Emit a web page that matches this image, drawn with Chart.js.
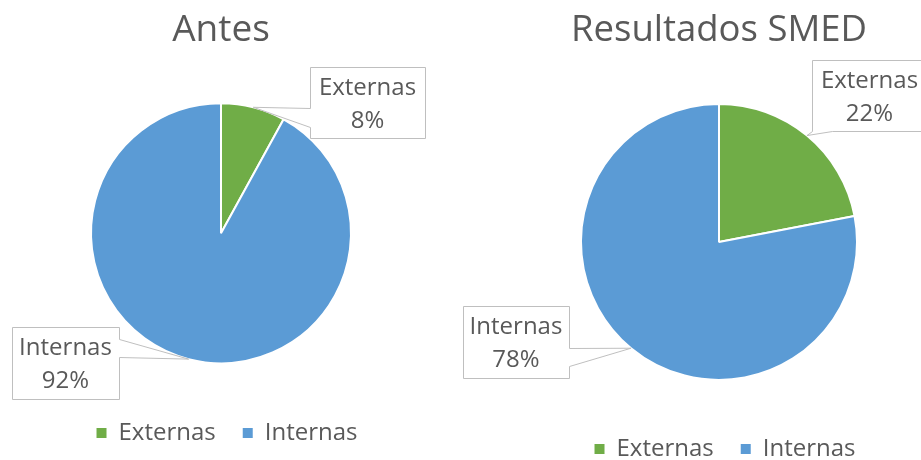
<!DOCTYPE html>
<html lang="es">
<head>
<meta charset="UTF-8">
<title>Antes / Resultados SMED</title>
<style>
  html, body {
    margin: 0;
    padding: 0;
    background: #ffffff;
    overflow: hidden;
  }
  #wrap {
    position: relative;
    width: 921px;
    height: 460px;
  }
  canvas {
    position: absolute;
    top: 0;
  }
  #antes { left: 0; }
  #smed { left: 460px; }
</style>
</head>
<body>
<div id="wrap">
  <canvas id="antes" width="460" height="460"></canvas>
  <canvas id="smed" width="461" height="480"></canvas>
</div>

<script src="https://cdn.jsdelivr.net/npm/chart.js@4.4.1/dist/chart.umd.min.js"></script>
<script>
  // chart data
  const categories = ['Externas', 'Internas'];
  const antesValues = [8, 92];
  const smedValues = [22, 78];
  const chartTitles = ['Antes', 'Resultados SMED'];

  const sliceColors = ['#70AD47', '#5B9BD5'];
  const textColor = '#595959';

  Chart.defaults.font.family = "'Open Sans', sans-serif";
  Chart.defaults.color = textColor;

  // callout boxes with a pointer to the middle of each slice
  const calloutPlugin = {
    id: 'callouts',
    afterLayout(chart, args, opts) {
      // legend centring counts the trailing item padding, nudge it back
      if (chart.legend && opts.legendShift) {
        chart.legend.left += opts.legendShift;
        chart.legend.right += opts.legendShift;
      }
    },
    afterDatasetsDraw(chart, args, opts) {
      const ctx = chart.ctx;
      const meta = chart.getDatasetMeta(0);
      const values = chart.data.datasets[0].data;
      const labels = chart.data.labels;

      opts.boxes.forEach((b, i) => {
        const arc = meta.data[i];
        const p = arc.getProps(['x', 'y', 'startAngle', 'endAngle', 'outerRadius'], true);
        const mid = (p.startAngle + p.endAngle) / 2;
        const tx = p.x + Math.cos(mid) * p.outerRadius;
        const ty = p.y + Math.sin(mid) * p.outerRadius;

        const x = b.x + 0.5, y = b.y + 0.5, w = b.w, h = b.h;
        ctx.save();
        ctx.beginPath();
        ctx.moveTo(x, y);
        ctx.lineTo(x + w, y);
        if (b.side === 'right') {
          ctx.lineTo(x + w, y + b.from);
          ctx.lineTo(tx, ty);
          ctx.lineTo(x + w, y + b.to);
        }
        ctx.lineTo(x + w, y + h);
        if (b.side === 'bottom') {
          ctx.lineTo(x + b.to, y + h);
          ctx.lineTo(tx, ty);
          ctx.lineTo(x + b.from, y + h);
        }
        ctx.lineTo(x, y + h);
        if (b.side === 'left') {
          ctx.lineTo(x, y + b.to);
          ctx.lineTo(tx, ty);
          ctx.lineTo(x, y + b.from);
        }
        ctx.closePath();
        ctx.fillStyle = '#ffffff';
        ctx.fill();
        ctx.strokeStyle = '#BFBFBF';
        ctx.lineWidth = 1;
        ctx.stroke();

        ctx.fillStyle = textColor;
        ctx.font = "24px 'Open Sans', sans-serif";
        ctx.textAlign = 'center';
        ctx.textBaseline = 'middle';
        const cx = b.x + w / 2, cy = b.y + h / 2 + 2;
        ctx.fillText(labels[i], cx, cy - 16.5);
        ctx.fillText(values[i] + '%', cx, cy + 16.5);
        ctx.restore();
      });
    }
  };

  function legendLabels(chart) {
    const items = Chart.overrides.pie.plugins.legend.labels.generateLabels(chart);
    return items.map(it => Object.assign(it, { lineWidth: 0 }));
  }

  function makePie(id, title, values, opt) {
    return new Chart(document.getElementById(id), {
      type: 'pie',
      data: {
        labels: categories,
        datasets: [{
          data: values,
          backgroundColor: sliceColors,
          borderColor: '#ffffff',
          borderWidth: 2
        }]
      },
      plugins: [calloutPlugin],
      options: {
        responsive: false,
        animation: false,
        devicePixelRatio: 1,
        radius: opt.radius,
        layout: { padding: opt.padding },
        plugins: {
          title: {
            display: true,
            text: title,
            color: textColor,
            font: { size: opt.titleSize, weight: 'normal' },
            padding: opt.titlePadding
          },
          legend: {
            position: 'bottom',
            labels: {
              boxWidth: 10,
              boxHeight: 10,
              padding: 27,
              color: textColor,
              font: { size: 24 },
              generateLabels: legendLabels
            }
          },
          tooltip: { enabled: false },
          callouts: { boxes: opt.boxes, legendShift: opt.legendShift }
        }
      }
    });
  }

  makePie('antes', chartTitles[0], antesValues, {
    radius: 130,
    padding: { left: 0, right: 18, top: 0, bottom: 5 },
    titleSize: 37,
    titlePadding: { top: 8, bottom: 20 },
    legendShift: 6,
    boxes: [
      { x: 310, y: 67, w: 115, h: 71, side: 'left', from: 41, to: 60 },
      { x: 12, y: 327, w: 107, h: 72, side: 'right', from: 12, to: 30 }
    ]
  });

  makePie('smed', chartTitles[1], smedValues, {
    radius: 138,
    padding: { left: 57, right: 0, top: 0, bottom: 9 },
    titleSize: 36.5,
    titlePadding: { top: 9, bottom: 21 },
    legendShift: 6,
    boxes: [
      { x: 352, y: 60, w: 115, h: 71, side: 'bottom', from: 0, to: 20 },
      { x: 3, y: 306, w: 106, h: 72, side: 'right', from: 42, to: 60 }
    ]
  });
</script>
</body>
</html>
